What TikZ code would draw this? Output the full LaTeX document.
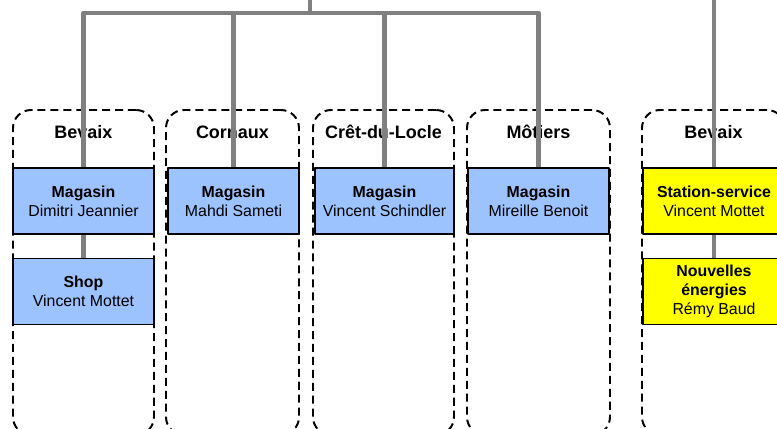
\documentclass[tikz,border=0pt]{standalone}
\usepackage{fontspec}
\setmainfont{Liberation Sans}
\definecolor{bleu}{RGB}{157,195,255}
\definecolor{jaune}{RGB}{255,255,0}
\definecolor{gris}{RGB}{128,128,128}
\begin{document}
\begin{tikzpicture}[line join=round, font=\fontsize{11.3}{13.6}\selectfont,
	grp/.style={draw, line width=1.4pt, dash pattern=on 5.7pt off 3.5pt, rounded corners=0.45cm, minimum height=8.125cm, inner sep=0pt},
	lbl/.style={font=\fontsize{12.8}{15}\selectfont\bfseries},
	mag/.style={draw, line width=1.1pt, fill=bleu, minimum height=1.65cm, align=center, inner sep=0pt},
	sta/.style={mag, fill=jaune},
	link/.style={line width=3.2pt, color=gris}]
	\useasboundingbox (0,0) rectangle (19.425,-10.7);
	\clip (0,0) rectangle (19.425,-10.7);
	% sites
	\node[grp, minimum width=3.525cm] (cBevaix) at (2.0875,-6.8125) {};
	\node[grp, minimum width=3.325cm] (cCornaux) at (5.8125,-6.8125) {};
	\node[grp, minimum width=3.525cm] (cCret) at (9.5875,-6.8125) {};
	\node[grp, minimum width=3.575cm] (cMotiers) at (13.4625,-6.8125) {};
	\node[grp, minimum width=3.575cm] (cBevaixB) at (17.8375,-6.8125) {};
	\node[lbl] (lBevaix) at ([yshift=-0.575cm]cBevaix.north) {Bevaix};
	\node[lbl] (lCornaux) at ([yshift=-0.575cm]cCornaux.north) {Cornaux};
	\node[lbl] (lCret) at ([yshift=-0.575cm]cCret.north) {Crêt-du-Locle};
	\node[lbl] (lMotiers) at ([yshift=-0.575cm]cMotiers.north) {Môtiers};
	\node[lbl] (lBevaixB) at ([yshift=-0.575cm]cBevaixB.north) {Bevaix};
	% services
	\node[mag, minimum width=3.525cm] (mBevaix) at (2.0875,-5.025) {\textbf{Magasin}\\Dimitri Jeannier};
	\node[mag, minimum width=3.525cm] (mShop) at (2.0875,-7.2875) {\textbf{Shop}\\Vincent Mottet};
	\node[mag, minimum width=3.275cm] (mCornaux) at (5.8375,-5.025) {\textbf{Magasin}\\Mahdi Sameti};
	\node[mag, minimum width=3.475cm] (mCret) at (9.6125,-5.025) {\textbf{Magasin}\\Vincent Schindler};
	\node[mag, minimum width=3.525cm] (mMotiers) at (13.4625,-5.025) {\textbf{Magasin}\\Mireille Benoit};
	\node[sta, minimum width=3.55cm] (mStation) at (17.85,-5.025) {\textbf{Station-service}\\Vincent Mottet};
	\node[sta, minimum width=3.55cm] (mNouv) at (17.85,-7.2875) {\textbf{Nouvelles}\\\textbf{énergies}\\Rémy Baud};
	% liens
	\coordinate (root) at (7.75,0.5);
	\coordinate (bus) at (7.75,-0.325);
	\coordinate (rootB) at (17.85,0.5);
	\draw[link] (root) -- (bus);
	\draw[link] (mBevaix.north) |- (bus) -| (mMotiers.north);
	\draw[link] (mCornaux.north) -- (mCornaux.north |- bus);
	\draw[link] (mCret.north) -- (mCret.north |- bus);
	\draw[link] (mBevaix.south) -- (mShop.north);
	\draw[link] (rootB) -- (mStation.north);
	\draw[link] (mStation.south) -- (mNouv.north);
\end{tikzpicture}
\end{document}
